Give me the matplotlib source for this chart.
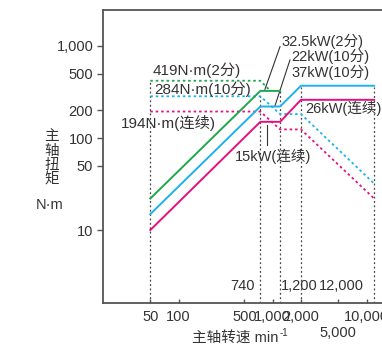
import matplotlib.pyplot as plt

plt.rcParams['font.family'] = ['Liberation Sans', 'Noto Sans CJK SC', 'DejaVu Sans']

# 输出功率 (kW) - 实线
spd_green = [50, 740, 1200]
kw_green = [2.2, 32.5, 32.5]
spd_blue = [50, 740, 1200, 2000, 12000]
kw_blue = [1.49, 22, 22, 37, 37]
spd_pink = [50, 740, 1200, 2000, 12000]
kw_pink = [1.0, 15, 15, 26, 26]

# 主轴扭矩 (N·m) - 虚线
tq_spd_green = [50, 740, 940]
tq_green = [419, 419, 327]
tq_spd_blue = [50, 740, 1200, 2000, 12000]
tq_blue = [284, 284, 182, 182, 32]
tq_spd_pink = [50, 740, 1200, 2000, 12000]
tq_pink = [194, 194, 124, 124, 22]

# 竖向参考线
vl_speeds = [50, 740, 1200, 2000, 12000]
vl_tops = [419, 290, 327, 361, 361]

xticks = [50, 100, 500, 1000, 2000, 5000, 10000]
xticklabels = ['50', '100', '500', '1,000', '2,000', '\n5,000', '10,000']
yticks = [10, 50, 100, 200, 500, 1000]
yticklabels = ['10', '50', '100', '200', '500', '1,000']

GREEN = '#1fa64f'
BLUE = '#1eb1ea'
PINK = '#e5107f'
TXT = '#333333'
GRAY = '#444444'

fig = plt.figure(figsize=(3.82, 3.51), dpi=100)
ax = fig.add_axes([103 / 382, 47.7 / 351, 292 / 382, 293.3 / 351])
ax.set_xscale('log')
ax.set_yscale('log')
ax.set_xlim(15.7, 20000)
ax.set_ylim(1.6, 2460)

ax2 = ax.twinx()
ax2.set_yscale('log')
ax2.set_ylim(0.16, 246)
ax2.set_yticks([])
ax2.minorticks_off()
for s in ax2.spines.values():
    s.set_visible(False)

dot = (0, (1.4, 1.6))
for sx, top in zip(vl_speeds, vl_tops):
    ax.plot([sx, sx], [1.6, top], color=GRAY, lw=0.9, ls=(0, (1.5, 2.0)))

ax.plot(tq_spd_green, tq_green, color=GREEN, lw=1.3, ls=dot)
ax.plot(tq_spd_blue, tq_blue, color=BLUE, lw=1.3, ls=dot)
ax.plot(tq_spd_pink, tq_pink, color=PINK, lw=1.3, ls=dot)

ax2.plot(spd_green, kw_green, color=GREEN, lw=1.4)
ax2.plot(spd_blue, kw_blue, color=BLUE, lw=1.4)
ax2.plot(spd_pink, kw_pink, color=PINK, lw=1.4)

fs = 10.5
ax.set_xticks(xticks)
ax.set_xticklabels(xticklabels)
ax.set_yticks(yticks)
ax.set_yticklabels(yticklabels)
ax.minorticks_off()
ax.tick_params(axis='x', direction='in', length=3, width=1, colors='#555555',
               labelcolor=TXT, labelsize=fs, pad=5)
ax.tick_params(axis='y', direction='out', length=4, width=1, colors='#555555',
               labelcolor=TXT, labelsize=fs, pad=3)
for side in ['top', 'left', 'bottom']:
    ax.spines[side].set_color('#555555')
    ax.spines[side].set_linewidth(1.3)
ax.spines['right'].set_visible(False)

# 标注
ax.text(53.4, 539, '419N·m(2分)', fontsize=fs + 0.5, color=TXT, va='center')
ax.text(54.6, 338, '284N·m(10分)', fontsize=fs + 0.5, color=TXT, va='center')
ax.text(24.2, 145, '194N·m(连续)', fontsize=fs + 0.5, color=TXT, va='center')
ax.text(1248, 1114, '32.5kW(2分)', fontsize=fs, color=TXT, va='center')
ax.text(1592, 778, '22kW(10分)', fontsize=fs, color=TXT, va='center')
ax.text(1592, 513, '37kW(10分)', fontsize=fs, color=TXT, va='center')
ax.text(2208, 210, '26kW(连续)', fontsize=fs, color=TXT, va='center')
ax.text(397, 62.7, '15kW(连续)', fontsize=fs, color=TXT, va='center')
ax.text(649, 2.46, '740', fontsize=fs, color=TXT, va='center', ha='right')
ax.text(1215, 2.46, '1,200', fontsize=fs, color=TXT, va='center', ha='left')
ax.text(9300, 2.46, '12,000', fontsize=fs, color=TXT, va='center', ha='right')

# 引线
ax.plot([1197, 828], [982, 338], color=TXT, lw=0.8)
ax.plot([1528, 1057], [705, 223], color=TXT, lw=0.8)
ax.plot([863, 863], [138, 84], color=TXT, lw=0.8)

fig.text(51.7 / 382, 1 - 158 / 351, '主\n轴\n扭\n矩', fontsize=fs, color=TXT,
         ha='center', va='center', linespacing=1.05)
fig.text(50 / 382, 1 - 205 / 351, 'N·m', fontsize=fs, color=TXT, ha='center', va='center')
fig.text(192 / 382, 1 - 338 / 351, '主轴转速 min', fontsize=fs, color=TXT,
         ha='left', va='center')
fig.text(280 / 382, 1 - 333 / 351, '-1', fontsize=7, color=TXT,
         ha='left', va='center')

fig.savefig('out.png', dpi=100)
